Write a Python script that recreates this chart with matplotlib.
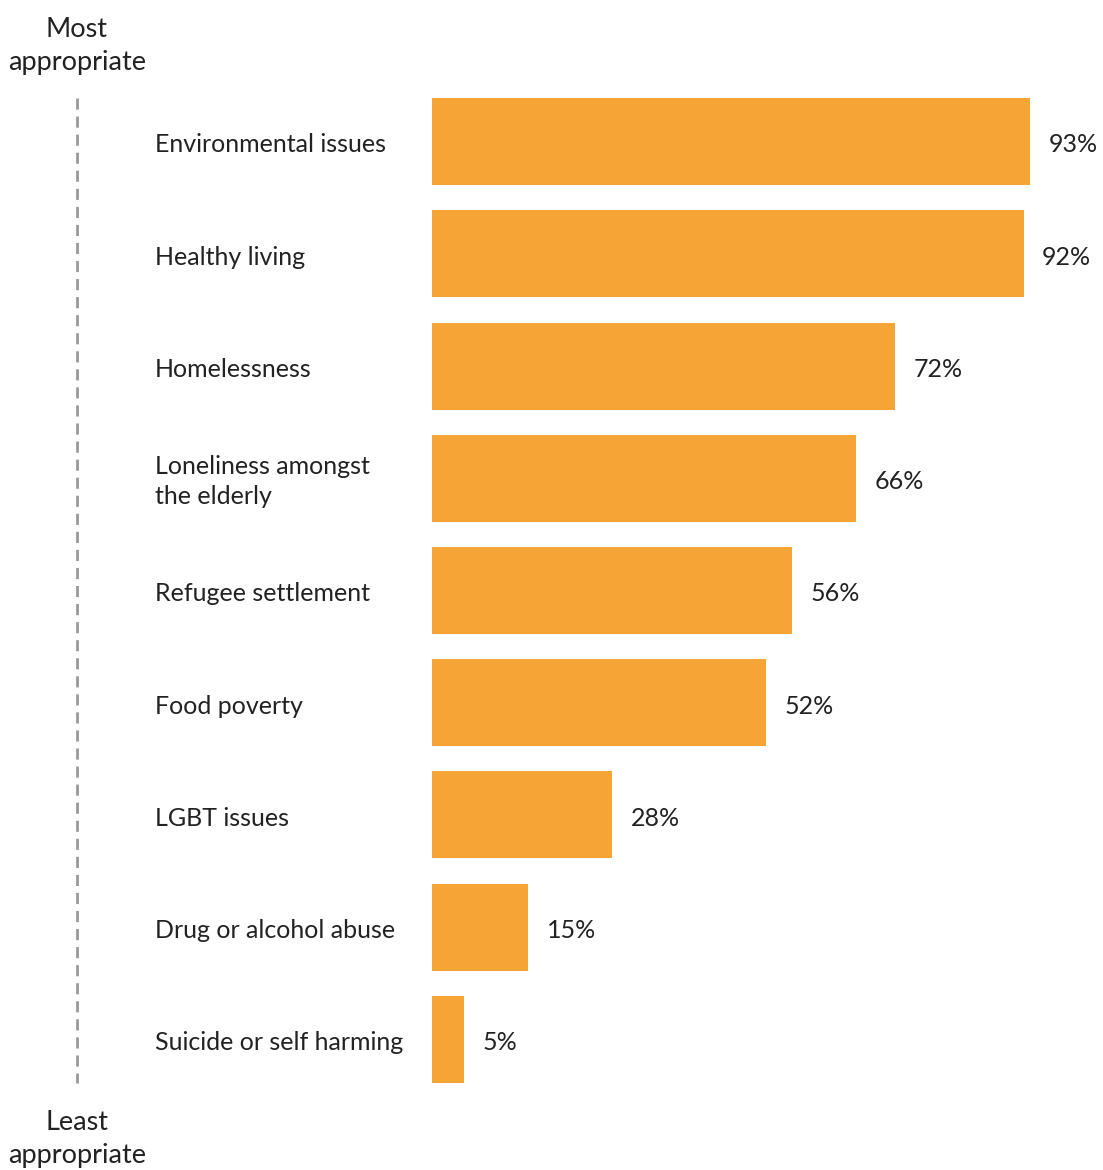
import matplotlib.pyplot as plt
import matplotlib.transforms as mtransforms

# Data
categories = [
    "Environmental issues",
    "Healthy living",
    "Homelessness",
    "Loneliness amongst\nthe elderly",
    "Refugee settlement",
    "Food poverty",
    "LGBT issues",
    "Drug or alcohol abuse",
    "Suicide or self harming",
]
values = [93, 92, 72, 66, 56, 52, 28, 15, 5]
value_labels = ["93%", "92%", "72%", "66%", "56%", "52%", "28%", "15%", "5%"]

bar_color = "#F5A536"
text_color = "#222222"

W, H = 1103, 1170
fig = plt.figure(figsize=(W / 100, H / 100), dpi=100)

# axes: x=0 at px 432, 6.43 px per percent; bar centres 112.25 px apart
ax_left = 432
ax = fig.add_axes([ax_left / W, 0, (W - ax_left) / W, 1])
px_per_pct = 6.43
ax.set_xlim(0, (W - ax_left) / px_per_pct)
step = 112.25
first = 141.5
ax.set_ylim((H - first) / step, -first / step)
ax.axis("off")

ypos = list(range(len(categories)))
ax.barh(ypos, values, height=87 / step, color=bar_color, linewidth=0)

font = ["Lato", "DejaVu Sans"]
dy = 0.03  # labels sit a touch below bar centre
for y, v, lab in zip(ypos, values, value_labels):
    ax.text(v + 2.9, y + dy, lab, va="center", ha="left", fontsize=18,
            color=text_color, family=font)

trans = mtransforms.blended_transform_factory(fig.transFigure, ax.transData)
for y, cat in zip(ypos, categories):
    ax.text(155 / W, y + dy, cat, transform=trans, va="center", ha="left",
            fontsize=18, color=text_color, family=font, linespacing=1.35)

# dashed scale line on the left
fig.add_artist(plt.Line2D([77 / W, 77 / W], [1 - 98 / H, 1 - 1083 / H],
                          transform=fig.transFigure, color="#999999",
                          linewidth=2, linestyle=(0, (4, 2.5))))

fig.text(77 / W, 1 - 46 / H, "Most\nappropriate", ha="center", va="center",
         fontsize=19.5, color=text_color, family=font, linespacing=1.42)
fig.text(77 / W, 1 - 1139 / H, "Least\nappropriate", ha="center", va="center",
         fontsize=19.5, color=text_color, family=font, linespacing=1.42)

fig.savefig("out.png", dpi=100)
